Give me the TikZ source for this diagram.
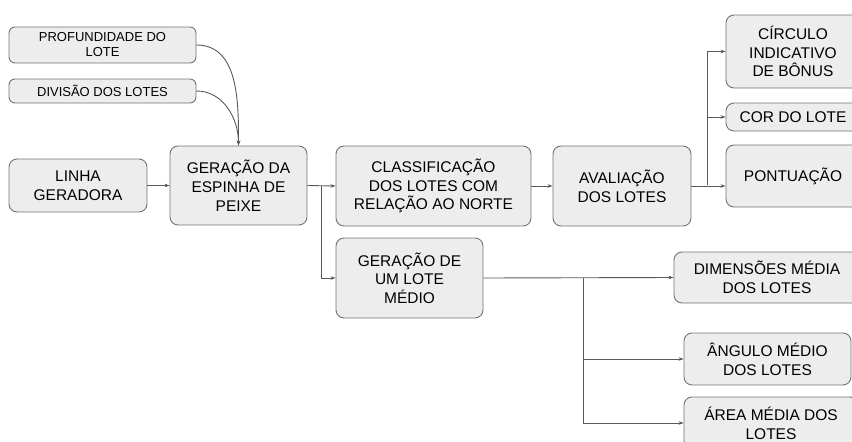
\documentclass[tikz,border=0pt]{standalone}
\usepackage{fontspec}
\setmainfont{Liberation Sans}
\usetikzlibrary{arrows.meta}

\tikzset{
  caixa/.style={draw=black!55, fill=black!7, line width=0.9pt, rounded corners=8pt,
    align=center, inner sep=0pt, font=\fontsize{15.5}{18.7}\selectfont},
  caixapeq/.style={caixa, rounded corners=6pt, font=\fontsize{13}{15}\selectfont},
  liga/.style={->, draw=black!65, line width=0.9pt}
}

\begin{document}
\begin{tikzpicture}[x=1pt, y=-1pt, >={Stealth[length=5pt,width=3.6pt]}]

\useasboundingbox (0,0) rectangle (852,442);
\clip (0,0) rectangle (852,442);

% --- Entradas ---
\node[caixapeq, minimum width=187pt, minimum height=36pt] (profundidade) at (102.5,45) {PROFUNDIDADE DO\\LOTE};
\node[caixapeq, minimum width=187pt, minimum height=24pt] (divisao) at (102.5,91) {DIVISÃO DOS LOTES};
\node[caixa, minimum width=138pt, minimum height=53pt] (linha) at (78,185.5) {LINHA\\GERADORA};

% --- Etapas principais ---
\node[caixa, minimum width=137pt, minimum height=79pt] (espinha) at (238.5,185.5) {GERAÇÃO DA\\ESPINHA DE\\PEIXE};
\node[caixa, minimum width=195pt, minimum height=80pt] (classif) at (433.5,186) {CLASSIFICAÇÃO\\DOS LOTES COM\\RELAÇÃO AO NORTE};
\node[caixa, minimum width=138pt, minimum height=80pt] (avaliacao) at (622,186) {AVALIAÇÃO\\DOS LOTES};
\node[caixa, minimum width=147pt, minimum height=80pt] (medio) at (409.5,278) {GERAÇÃO DE\\UM LOTE\\MÉDIO};

% --- Resultados da avaliacao ---
\node[caixa, minimum width=134pt, minimum height=73pt] (circulo) at (793,51.5) {CÍRCULO\\INDICATIVO\\DE BÔNUS};
\node[caixa, minimum width=134pt, minimum height=28pt] (cor) at (793,117) {COR DO LOTE};
\node[caixa, minimum width=134pt, minimum height=62pt] (pontuacao) at (793,176) {PONTUAÇÃO};

% --- Resultados do lote medio ---
\node[caixa, minimum width=186pt, minimum height=51pt] (dimensoes) at (767,277.5) {DIMENSÕES MÉDIA\\DOS LOTES};
\node[caixa, minimum width=167pt, minimum height=52pt] (angulo) at (767.5,359) {ÂNGULO MÉDIO\\DOS LOTES};
\node[caixa, minimum width=174pt, minimum height=52pt] (area) at (771,423) {ÁREA MÉDIA DOS\\LOTES};

% --- Pontos de ramificacao ---
\coordinate (ramo1) at (321,186);
\coordinate (ramo2) at (707,185);
\coordinate (ramo3) at (583,278);

% --- Ligacoes ---
\draw[liga] (profundidade.east) to[out=0, in=90] (espinha.north);
\draw[liga] (divisao.east) to[out=0, in=90] (espinha.north);
\draw[liga] (linha.east) -- (espinha.west);
\draw[liga] (espinha.east) -- (classif.west);
\draw[liga] (ramo1) |- (medio.west);
\draw[liga] (classif.east) -- (avaliacao.west);
\draw[liga] (avaliacao.east) -- (avaliacao.east -| pontuacao.west);
\foreach \dest in {circulo, cor}{
    \draw[liga] (ramo2) |- (\dest.west);
}
\draw[liga] (medio.east) -- (dimensoes.west);
\foreach \dest in {angulo, area}{
    \draw[liga] (ramo3) |- (\dest.west);
}

\end{tikzpicture}
\end{document}
